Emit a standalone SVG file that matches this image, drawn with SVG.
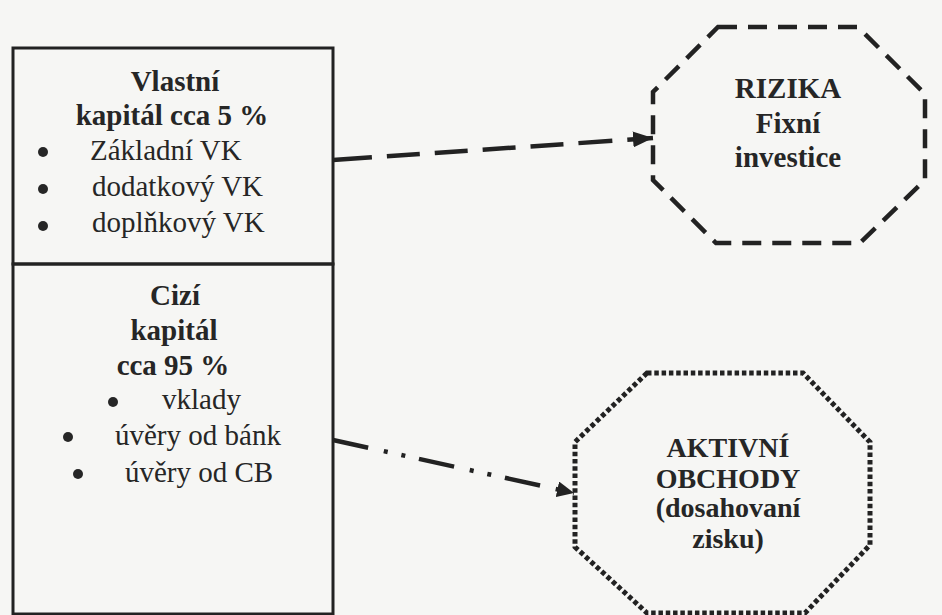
<svg xmlns="http://www.w3.org/2000/svg" width="942" height="615" viewBox="0 0 942 615">
<style>
.bg{fill:#f6f6f4}
.box{fill:none;stroke:#222;stroke-width:3}
.t{font-family:"Liberation Serif","Times New Roman",serif;font-size:29px;fill:#262626}
.b{font-weight:bold;text-anchor:middle}
.s{font-size:28px}
.dot{fill:#262626}
.dash{fill:none;stroke:#222;stroke-width:4.5;stroke-dasharray:19 11}
.dotted{fill:none;stroke:#222;stroke-width:5;stroke-dasharray:4.5 2.8}
.c1{fill:none;stroke:#222;stroke-width:4.5;stroke-dasharray:39 15 33 15 33 15 33 15 33 15 34 15}
.c2{fill:none;stroke:#222;stroke-width:4.5;stroke-dasharray:36 16 4 14 4 14}
</style>
<defs>
<marker id="ah" viewBox="0 0 20 16" refX="20" refY="8" markerWidth="20" markerHeight="16" markerUnits="userSpaceOnUse" orient="auto">
<path d="M0,0 L20,8 L0,16 Z" fill="#222"/>
</marker>
<marker id="ah2" viewBox="0 0 17 16" refX="17" refY="8" markerWidth="17" markerHeight="16" markerUnits="userSpaceOnUse" orient="auto">
<path d="M0,0 L17,8 L0,16 Z" fill="#222"/>
</marker>
</defs>
<rect class="bg" x="0" y="0" width="942" height="615"/>
<g id="vlastni-kapital">
<rect class="box" x="13" y="48" width="320" height="216"/>
<text class="t b" x="175" y="91">Vlastní</text>
<text class="t b" x="172" y="125">kapitál cca 5 %</text>
<circle class="dot" cx="43" cy="152" r="5"/>
<text class="t" x="90" y="160">Základní VK</text>
<circle class="dot" cx="43" cy="189" r="5"/>
<text class="t" x="92" y="196">dodatkový VK</text>
<circle class="dot" cx="43" cy="226" r="5"/>
<text class="t" x="92" y="232">doplňkový VK</text>
</g>
<g id="cizi-kapital">
<rect class="box" x="13" y="264" width="320" height="350"/>
<text class="t b" x="175" y="305">Cizí</text>
<text class="t b" x="174" y="340">kapitál</text>
<text class="t b" x="173" y="375">cca 95 %</text>
<circle class="dot" cx="113" cy="402" r="5"/>
<text class="t" x="162" y="409">vklady</text>
<circle class="dot" cx="68" cy="437" r="5"/>
<text class="t" x="115" y="445">úvěry od bánk</text>
<circle class="dot" cx="78" cy="474" r="5"/>
<text class="t" x="125" y="482">úvěry od CB</text>
</g>
<g id="rizika">
<polygon class="dash" points="718,27 858,27 925,94 925,180 860,243 716,243 653,180 653,92"/>
<text class="t b" x="788" y="98">RIZIKA</text>
<text class="t b" x="788" y="133">Fixní</text>
<text class="t b" x="788" y="167">investice</text>
</g>
<g id="aktivni-obchody">
<polygon class="dotted" points="647,373 803,373 870,442 870,545 805,613 647,613 575,547 575,442"/>
<text class="t b s" x="728" y="457">AKTIVNÍ</text>
<text class="t b s" x="728" y="488">OBCHODY</text>
<text class="t b s" x="728" y="517">(dosahovaní</text>
<text class="t b s" x="728" y="548">zisku)</text>
</g>
<g id="connectors">
<line class="c1" x1="333" y1="160" x2="653" y2="138" marker-end="url(#ah)"/>
<line class="c2" x1="333" y1="440" x2="574" y2="493" marker-end="url(#ah2)"/>
</g>
</svg>
